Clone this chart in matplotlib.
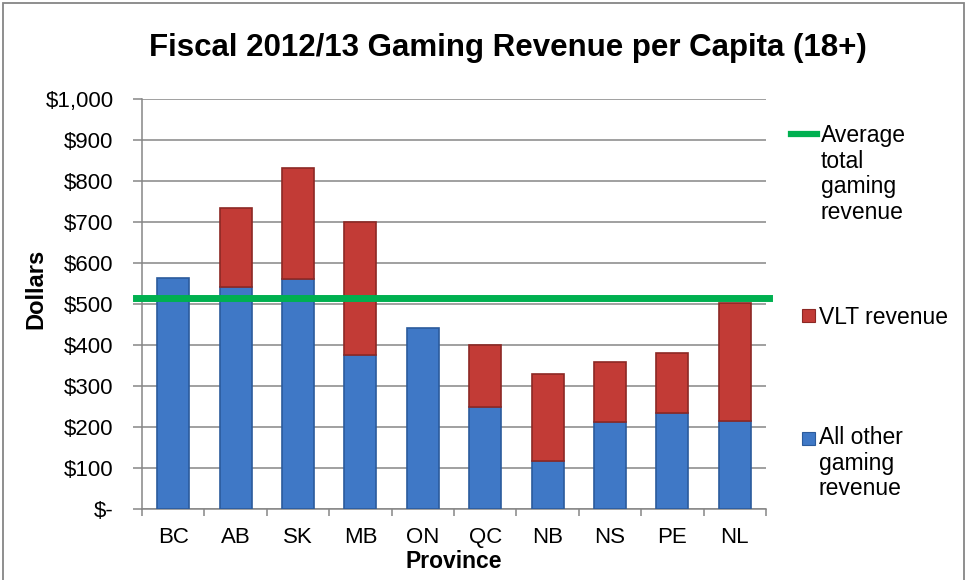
import matplotlib
matplotlib.use("Agg")
import matplotlib.pyplot as plt
from matplotlib.lines import Line2D
from matplotlib.patches import Rectangle
from matplotlib.ticker import FixedLocator, FuncFormatter
import numpy as np

plt.rcParams['font.family'] = ['Liberation Sans', 'DejaVu Sans']

# Data (dollars per capita, 18+)
provinces = ['BC', 'AB', 'SK', 'MB', 'ON', 'QC', 'NB', 'NS', 'PE', 'NL']
other_revenue = [563, 542, 561, 376, 442, 250, 118, 211, 233, 215]
vlt_revenue = [0, 193, 271, 323, 0, 150, 211, 148, 147, 287]
average_total = 515

blue = '#3f78c6'
blue_edge = '#2b5b9c'
red = '#c23b36'
red_edge = '#8c2824'
green = '#00b050'
grey = '#868686'

fig = plt.figure(figsize=(9.67, 5.8), dpi=100)
ax = fig.add_axes([142 / 967, 1 - 509 / 580, (766 - 142) / 967, (509 - 99) / 580])

x = np.arange(len(provinces))
ax.bar(x, other_revenue, width=0.51, color=blue, edgecolor=blue_edge, linewidth=1.2, zorder=3)
# no outline on the empty VLT segments (BC, ON)
vlt_lw = [1.2 if v > 0 else 0 for v in vlt_revenue]
ax.bar(x, vlt_revenue, width=0.51, bottom=other_revenue, color=red, edgecolor=red_edge,
       linewidth=vlt_lw, zorder=3)
ax.axhline(average_total, xmin=-0.01, xmax=1.005, color=green, linewidth=5, zorder=4, clip_on=False)

ax.set_xlim(-0.5, len(provinces) - 0.5)
ax.set_ylim(0, 1000)
ax.set_yticks(np.arange(0, 1001, 100))
ax.yaxis.set_major_formatter(FuncFormatter(lambda v, p: '$-' if v == 0 else '${:,.0f}'.format(v)))
ax.set_xticks(x)
ax.set_xticklabels(provinces)
ax.xaxis.set_minor_locator(FixedLocator(np.arange(-0.5, len(provinces), 1)))

ax.grid(axis='y', color=grey, linewidth=1.1, zorder=0)
ax.set_axisbelow(True)
for s in ['top', 'right']:
    ax.spines[s].set_visible(False)
for s in ['left', 'bottom']:
    ax.spines[s].set_color(grey)
    ax.spines[s].set_linewidth(1.1)

ax.tick_params(axis='y', length=6.5, width=1.1, color=grey, pad=14, labelsize=16)
ax.tick_params(axis='x', which='major', length=0, pad=13, labelsize=16)
ax.tick_params(axis='x', which='minor', length=5, width=1.1, color=grey)

ax.set_ylabel('Dollars', fontsize=17, fontweight='bold')
ax.yaxis.set_label_coords(-0.152, 0.537)
ax.set_xlabel('Province', fontsize=16.5, fontweight='bold')
ax.xaxis.set_label_coords(0.5, -0.10)

fig.text(508 / 967, 1 - 48 / 580, 'Fiscal 2012/13 Gaming Revenue per Capita (18+)',
         ha='center', va='center', fontsize=22.5, fontweight='bold')

# legend drawn by hand so the handles sit next to the first text line
legend_fs = 16.5
fig.add_artist(Line2D([791 / 967, 817 / 967], [1 - 134 / 580, 1 - 134 / 580],
                      color=green, linewidth=4.5, transform=fig.transFigure))
fig.text(821 / 967, 1 - 124 / 580, 'Average\ntotal\ngaming\nrevenue', ha='left', va='top',
         fontsize=legend_fs, linespacing=1.15)
fig.add_artist(Rectangle((802 / 967, 1 - 322 / 580), 13 / 967, 13 / 580, facecolor=red,
                         edgecolor=red_edge, linewidth=0.8, transform=fig.transFigure))
fig.text(819 / 967, 1 - 306 / 580, 'VLT revenue', ha='left', va='top', fontsize=legend_fs)
fig.add_artist(Rectangle((802 / 967, 1 - 445 / 580), 13 / 967, 13 / 580, facecolor=blue,
                         edgecolor=blue_edge, linewidth=0.8, transform=fig.transFigure))
fig.text(819 / 967, 1 - 426 / 580, 'All other\ngaming\nrevenue', ha='left', va='top',
         fontsize=legend_fs, linespacing=1.15)

# outer chart border
fig.add_artist(Rectangle((3 / 967, -0.02), 961 / 967, 1.02 - 3 / 580, fill=False,
                         edgecolor=grey, linewidth=1.3, transform=fig.transFigure))

fig.savefig('out.png', dpi=100)
